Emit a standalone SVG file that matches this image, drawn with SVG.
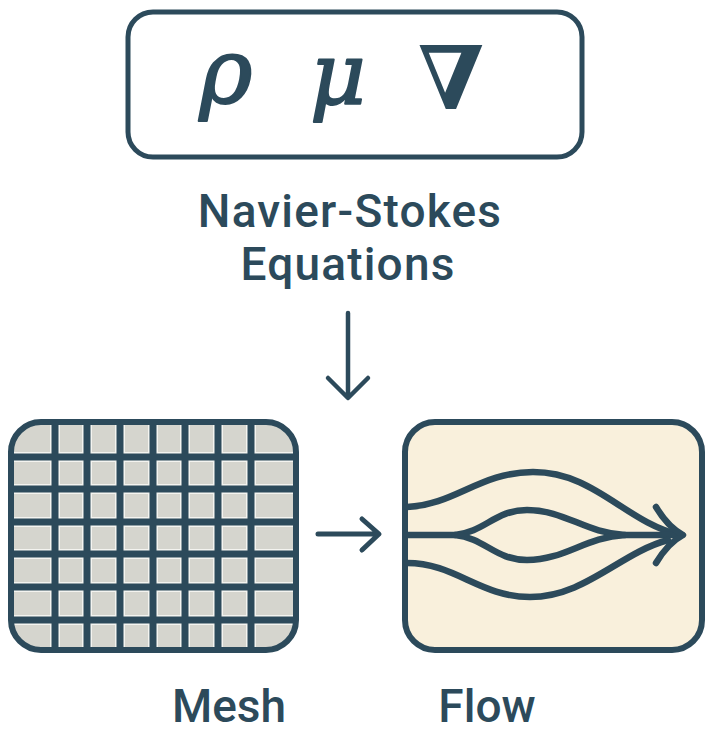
<svg xmlns="http://www.w3.org/2000/svg" width="708" height="745" viewBox="0 0 708 745">
<style>
.ink{stroke:#2c4a5b;fill:none;stroke-linecap:round;stroke-linejoin:round}
.lbl{font-family:Roboto,"Liberation Sans",sans-serif;font-weight:500;fill:#2c4a5b;text-anchor:middle}
.sym{font-family:"DejaVu Serif","Liberation Serif",serif;fill:#2c4a5b;text-anchor:middle}
.thick{stroke:#2c4a5b;stroke-width:2;stroke-linejoin:round}
</style>
<defs>
<clipPath id="meshclip"><rect x="11" y="422" width="285" height="228" rx="30"/></clipPath>
</defs>
<rect width="708" height="745" fill="#ffffff"/>
<g id="equations">
<rect x="128" y="12" width="454" height="145" rx="25" fill="#ffffff" stroke="#2c4a5b" stroke-width="5"/>
<text class="sym thick" x="226" y="102" font-size="90" font-style="italic">ρ</text>
<text class="sym thick" x="338" y="104" font-size="86" font-style="italic">μ</text>
<text class="sym" x="451" y="109" font-size="88" font-weight="bold">∇</text>
<text class="lbl" x="350" y="227" font-size="46" letter-spacing="1.2">Navier-Stokes</text>
<text class="lbl" x="348" y="280" font-size="46" letter-spacing="1.2">Equations</text>
</g>
<g id="mesh">
<rect x="11" y="422" width="285" height="228" rx="30" fill="#d5d5ce"/>
<g clip-path="url(#meshclip)">
<g stroke="#f4f4f0" stroke-width="10">
<path d="M55,410V660M87,410V660M120,410V660M153,410V660M185,410V660M218,410V660M251,410V660"/>
<path d="M0,457H310M0,489H310M0,522H310M0,554H310M0,587H310M0,620H310"/>
</g>
<g stroke="#2c4a5b" stroke-width="7">
<path d="M55,410V660M87,410V660M120,410V660M153,410V660M185,410V660M218,410V660M251,410V660"/>
<path d="M0,457H310M0,489H310M0,522H310M0,554H310M0,587H310M0,620H310"/>
</g>
</g>
<rect x="11" y="422" width="285" height="228" rx="30" fill="none" stroke="#2c4a5b" stroke-width="6"/>
<text class="lbl" x="229" y="722" font-size="46">Mesh</text>
</g>
<g id="flow">
<rect x="405" y="422" width="297" height="228" rx="30" fill="#f9f0dc" stroke="#2c4a5b" stroke-width="6"/>
<g class="ink" stroke-width="6.5">
<path d="M407,507 C455,505 480,472 533,472 C595,472 625,522 680,535"/>
<path d="M407,535 L455,535 C485,532 495,510 527,510 C565,510 585,533 625,535 L682,535"/>
<path d="M455,535 C485,538 495,560 527,560 C565,560 585,537 625,535"/>
<path d="M407,563 C455,563 480,597 530,597 C585,597 620,553 668,540"/>
<path d="M656,507 Q668,527 683,535 Q668,543 656,563"/>
</g>
<text class="lbl" x="487" y="722" font-size="46">Flow</text>
</g>
<g id="connectors" class="ink">
<path d="M348,313 V397 M328,378 L348,398 L368,378" stroke-width="4.5"/>
<path d="M318,534 H378 M362,519 L379,534 L362,550" stroke-width="5"/>
</g>
</svg>
